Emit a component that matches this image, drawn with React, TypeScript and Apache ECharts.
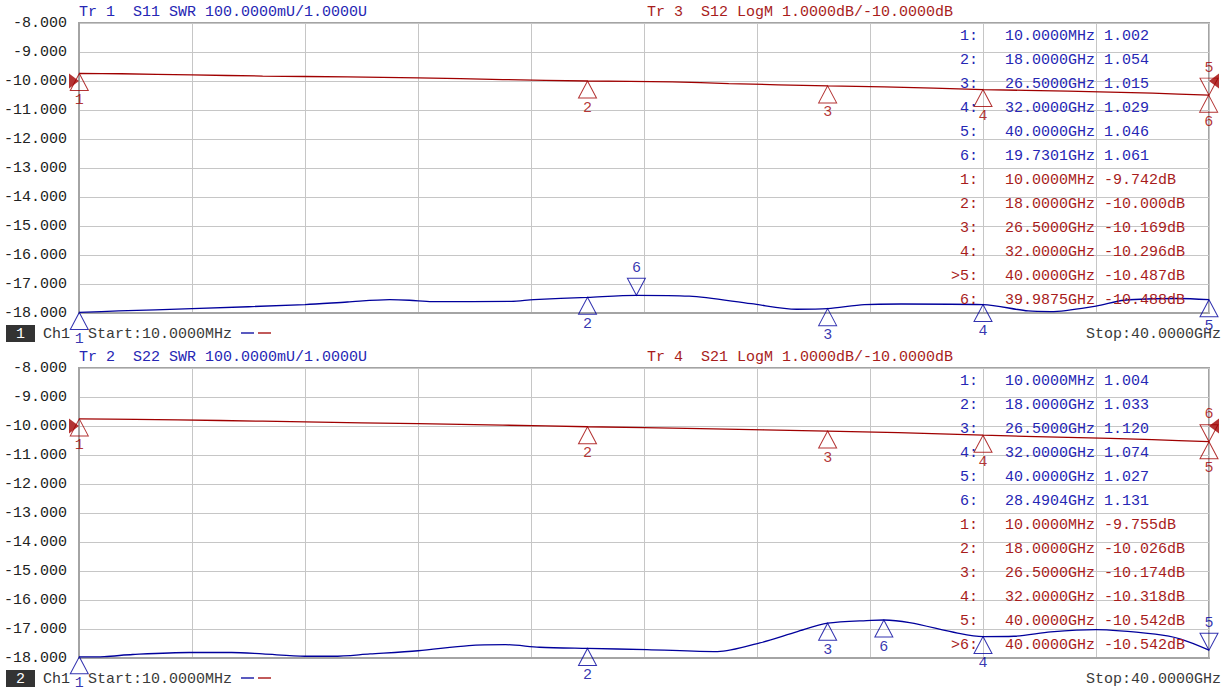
import React, { useEffect, useRef } from "react";
import * as echarts from "echarts";

// ---------- data ----------
// x in GHz, SWR traces (blue, 100 mU/div, ref 1.0000U at bottom), LogM traces (red, dB)
const topSwrTrace: [number, number][] = [
  [0.01, 1.002], [1.4, 1.007], [4, 1.015], [8, 1.029], [9.5, 1.038], [11, 1.046], [11.7, 1.044],
  [12.5, 1.039], [15.3, 1.04], [16.1, 1.046], [18, 1.054], [19.73, 1.061], [21.6, 1.058],
  [23.8, 1.032], [25.4, 1.013], [26.5, 1.015], [27.8, 1.029], [29.1, 1.031], [32, 1.029],
  [33.6, 1.007], [34.4, 1.005], [36, 1.024], [37, 1.044], [38.9, 1.05], [40, 1.046],
];
const topDbTrace: [number, number][] = [
  [0.01, -9.742], [1.5, -9.75], [4, -9.79], [6.5, -9.83], [9.5, -9.86], [12, -9.89], [15, -9.95],
  [18, -10.0], [21, -10.03], [23, -10.09], [26.5, -10.169], [28.5, -10.2], [32, -10.296],
  [35, -10.35], [38, -10.42], [40, -10.487],
];
const botSwrTrace: [number, number][] = [
  [0.01, 1.004], [0.9, 1.005], [1.9, 1.012], [3.9, 1.019], [5.4, 1.019], [6.5, 1.014], [8.0, 1.006],
  [9.0, 1.006], [10.3, 1.014], [12, 1.025], [13.8, 1.043], [15.1, 1.046], [16.3, 1.037], [18, 1.033],
  [20.1, 1.029], [22.6, 1.022], [24.1, 1.052], [25.4, 1.09], [26.5, 1.12], [28.05, 1.13],
  [28.49, 1.131], [29.4, 1.122], [31.1, 1.086], [32, 1.074], [33.1, 1.075], [34.4, 1.09],
  [36, 1.098], [38.1, 1.082], [39.0, 1.065], [40, 1.027],
];
const botDbTrace: [number, number][] = [
  [0.01, -9.755], [2, -9.77], [5, -9.81], [8, -9.86], [12, -9.92], [15, -9.97], [18, -10.026],
  [22, -10.09], [26.5, -10.174], [29, -10.23], [32, -10.318], [35, -10.39], [38, -10.47],
  [40, -10.542],
];

// markers
const topSwrMarkFreq = [0.01, 18, 26.5, 32, 40, 19.7301];
const topSwrMarkVal = [1.002, 1.054, 1.015, 1.029, 1.046, 1.061];
const topSwrMarkDir = ["up", "up", "up", "up", "up", "down"];
const topDbMarkFreq = [0.01, 18, 26.5, 32, 40, 39.9875];
const topDbMarkVal = [-9.742, -10.0, -10.169, -10.296, -10.487, -10.488];
const topDbMarkDir = ["up", "up", "up", "up", "down", "up"];
const topDbActive = 4;

const botSwrMarkFreq = [0.01, 18, 26.5, 32, 40, 28.4904];
const botSwrMarkVal = [1.004, 1.033, 1.12, 1.074, 1.027, 1.131];
const botSwrMarkDir = ["up", "up", "up", "up", "down", "up"];
const botDbMarkFreq = [0.01, 18, 26.5, 32, 40, 40];
const botDbMarkVal = [-9.755, -10.026, -10.174, -10.318, -10.542, -10.542];
const botDbMarkDir = ["up", "up", "up", "up", "up", "down"];
const botDbActive = 5;

const headerSwr = ["Tr 1  S11 SWR 100.0000mU/1.0000U", "Tr 2  S22 SWR 100.0000mU/1.0000U"];
const headerDb = ["Tr 3  S12 LogM 1.0000dB/-10.0000dB", "Tr 4  S21 LogM 1.0000dB/-10.0000dB"];
const channelNums = ["1", "2"];
const startLabel = "Start:10.0000MHz";
const stopLabel = "Stop:40.0000GHz";

const yMin = -18;
const yMax = -8;
const refDb = -10;
const xMin = 0;
const xMax = 40;

// ---------- styles ----------
const BLUE_LINE = "#00009c";
const BLUE_TEXT = "#2626b4";
const RED_LINE = "#a00000";
const RED_TEXT = "#a81c1c";
const FONT = '"Liberation Mono", "DejaVu Sans Mono", monospace';

const swrToAxis = (v: number) => yMin + (v - 1) * 10;

const fmtFreq = (f: number) => (f < 1 ? (f * 1000).toFixed(4) + "MHz" : f.toFixed(4) + "GHz");

export default function App() {
  const ref = useRef<HTMLDivElement>(null);
  useEffect(() => {
    document.body.style.margin = "0";
    if (!ref.current) return;
    const chart = echarts.init(ref.current, null, { renderer: "svg" });

    const panels = [
      {
        swr: topSwrTrace, db: topDbTrace,
        sF: topSwrMarkFreq, sV: topSwrMarkVal, sD: topSwrMarkDir,
        dF: topDbMarkFreq, dV: topDbMarkVal, dD: topDbMarkDir, active: topDbActive,
      },
      {
        swr: botSwrTrace, db: botDbTrace,
        sF: botSwrMarkFreq, sV: botSwrMarkVal, sD: botSwrMarkDir,
        dF: botDbMarkFreq, dV: botDbMarkVal, dD: botDbMarkDir, active: botDbActive,
      },
    ];

    const gridTop = [23, 368];
    const gridH = 290;

    const series: any[] = [];
    const graphic: any[] = [];

    panels.forEach((p, i) => {
      const common = { xAxisIndex: i, yAxisIndex: i };
      series.push({
        ...common, type: "line", data: p.db, symbol: "none", smooth: 0.25,
        lineStyle: { color: RED_LINE, width: 1.3 }, z: 3,
      });
      series.push({
        ...common, type: "line", data: p.swr.map(([f, v]) => [f, swrToAxis(v)]), symbol: "none",
        smooth: 0.3, lineStyle: { color: BLUE_LINE, width: 1.3 }, z: 3,
      });
      const mk = (F: number[], V: number[], D: string[], color: string, conv: (v: number) => number) => {
        series.push({
          ...common, type: "scatter", clip: false, z: 5, symbol: "triangle", symbolSize: [18, 17],
          itemStyle: { color: "rgba(0,0,0,0)", borderColor: color, borderWidth: 1 },
          data: F.map((f, k) => ({
            value: [f, conv(V[k])],
            symbolRotate: D[k] === "down" ? 180 : 0,
            symbolOffset: [0, D[k] === "down" ? -8.5 : 8.5],
          })),
          silent: true,
        });
        series.push({
          ...common, type: "scatter", clip: false, z: 6, symbol: "circle", symbolSize: 1,
          itemStyle: { color: "rgba(0,0,0,0)" },
          data: F.map((f, k) => ({
            value: [f, conv(V[k])],
            label: {
              show: true, position: "inside", offset: [0, D[k] === "down" ? -27 : 27],
              formatter: String(k + 1), color, fontFamily: FONT, fontSize: 15,
            },
          })),
          silent: true,
        });
      };
      mk(p.dF, p.dV, p.dD, RED_LINE, (v) => v);
      mk(p.sF, p.sV, p.sD, BLUE_LINE, swrToAxis);
      // reference level indicators
      series.push({
        ...common, type: "scatter", clip: false, z: 6, symbol: "triangle", symbolSize: [15, 10],
        itemStyle: { color: RED_LINE },
        data: [
          { value: [xMin, refDb], symbolRotate: -90, symbolOffset: [-5, 0] },
          { value: [xMax, refDb], symbolRotate: 90, symbolOffset: [5, 0] },
        ],
        silent: true,
      });

      const top = gridTop[i];
      // headers
      graphic.push({
        type: "text", z: 10,
        style: { text: headerSwr[i], x: 79, y: top - 11, fill: BLUE_TEXT, font: `15px ${FONT}`, textAlign: "left", verticalAlign: "middle" },
      });
      graphic.push({
        type: "text", z: 10,
        style: { text: headerDb[i], x: 647, y: top - 11, fill: RED_TEXT, font: `15px ${FONT}`, textAlign: "left", verticalAlign: "middle" },
      });
      // marker table
      const rows: { n: string; f: string; v: string; c: string }[] = [];
      p.sF.forEach((f, k) => rows.push({ n: `${k + 1}:`, f: fmtFreq(f), v: p.sV[k].toFixed(3), c: BLUE_TEXT }));
      p.dF.forEach((f, k) =>
        rows.push({ n: (k === p.active ? ">" : "") + `${k + 1}:`, f: fmtFreq(f), v: p.dV[k].toFixed(3) + "dB", c: RED_TEXT })
      );
      rows.forEach((r, k) => {
        const y = top + 13 + 24 * k;
        graphic.push({ type: "text", z: 10, style: { text: r.n, x: 978, y, fill: r.c, font: `15px ${FONT}`, textAlign: "right", verticalAlign: "middle" } });
        graphic.push({ type: "text", z: 10, style: { text: r.f, x: 1095, y, fill: r.c, font: `15px ${FONT}`, textAlign: "right", verticalAlign: "middle" } });
        graphic.push({ type: "text", z: 10, style: { text: r.v, x: 1104, y, fill: r.c, font: `15px ${FONT}`, textAlign: "left", verticalAlign: "middle" } });
      });
      // footer
      const fy = top + gridH + 21;
      graphic.push({ type: "rect", z: 10, shape: { x: 6, y: fy - 9, width: 29, height: 17 }, style: { fill: "#333333" } });
      graphic.push({ type: "text", z: 11, style: { text: channelNums[i], x: 20.5, y: fy, fill: "#ffffff", font: `15px ${FONT}`, textAlign: "center", verticalAlign: "middle" } });
      graphic.push({ type: "text", z: 10, style: { text: "Ch1", x: 43, y: fy, fill: "#333333", font: `15px ${FONT}`, textAlign: "left", verticalAlign: "middle" } });
      graphic.push({ type: "text", z: 10, style: { text: startLabel, x: 88, y: fy, fill: "#3a3a3a", font: `15px ${FONT}`, textAlign: "left", verticalAlign: "middle" } });
      graphic.push({ type: "line", z: 10, shape: { x1: 241, y1: fy - 1, x2: 254, y2: fy - 1 }, style: { stroke: BLUE_LINE, lineWidth: 1.3 } });
      graphic.push({ type: "line", z: 10, shape: { x1: 258, y1: fy - 1, x2: 271, y2: fy - 1 }, style: { stroke: RED_LINE, lineWidth: 1.3 } });
      graphic.push({ type: "text", z: 10, style: { text: stopLabel, x: 1221, y: fy, fill: "#3a3a3a", font: `15px ${FONT}`, textAlign: "right", verticalAlign: "middle" } });
    });

    const gridCfg = gridTop.map((t) => ({
      left: 79, top: t, width: 1130, height: gridH, show: true,
      borderColor: "#a4a4a4", borderWidth: 2, backgroundColor: "#ffffff",
    }));

    const xAxes = gridTop.map((_, i) => ({
      type: "value", gridIndex: i, min: xMin, max: xMax, interval: 4,
      axisLabel: { show: false }, axisTick: { show: false },
      axisLine: { show: true, lineStyle: { color: "#a4a4a4", width: 2 } },
      splitLine: { show: true, lineStyle: { color: "#c6c6c6", width: 1 } },
    }));
    const yAxes = gridTop.map((_, i) => ({
      type: "value", gridIndex: i, min: yMin, max: yMax, interval: 1,
      axisTick: { show: false },
      axisLine: { show: true, lineStyle: { color: "#a4a4a4", width: 2 } },
      splitLine: { show: true, lineStyle: { color: "#c6c6c6", width: 1 } },
      axisLabel: {
        margin: 12, color: "#222222", fontFamily: FONT, fontSize: 15,
        formatter: (v: number) => v.toFixed(3),
      },
    }));

    chart.setOption({
      animation: false,
      backgroundColor: "#ffffff",
      grid: gridCfg,
      xAxis: xAxes,
      yAxis: yAxes,
      series,
      graphic,
    });
    return () => chart.dispose();
  }, []);
  return <div ref={ref} style={{ width: 1226, height: 697 }} />;
}
